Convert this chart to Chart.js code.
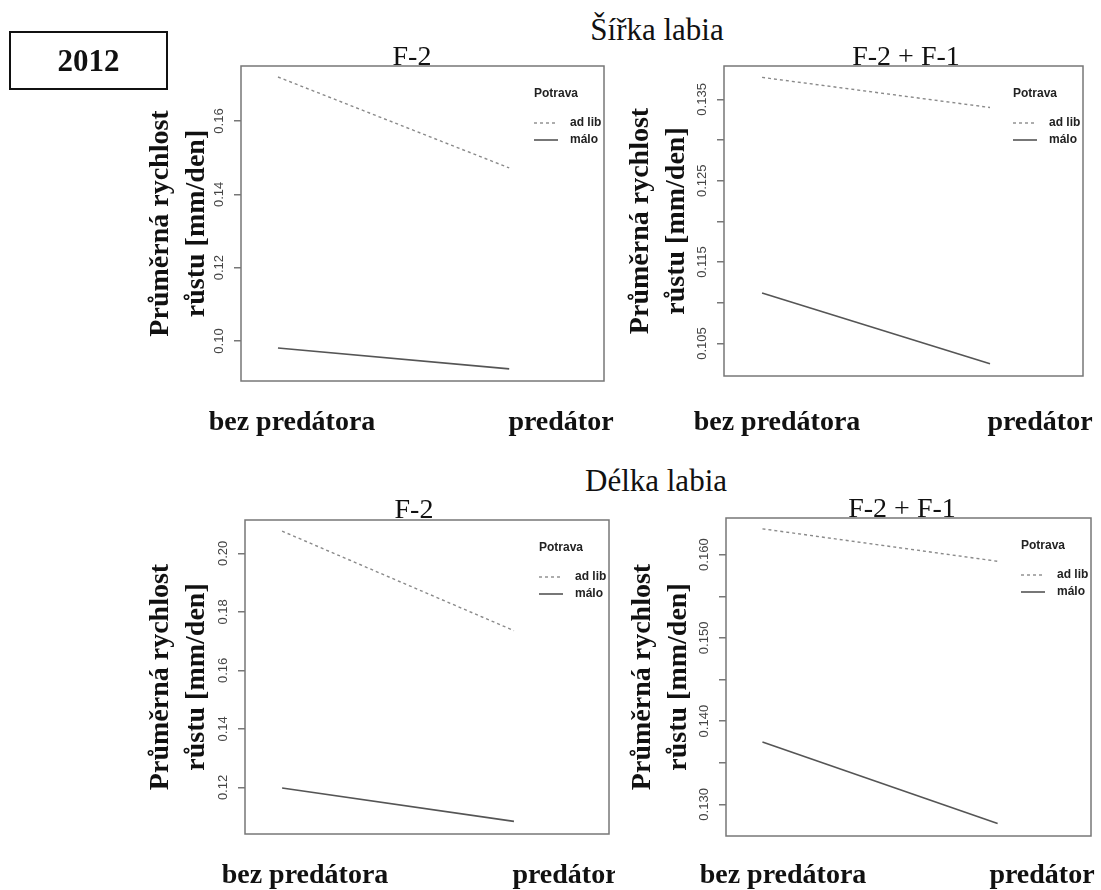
<!DOCTYPE html>
<html>
<head>
<meta charset="utf-8">
<script src="https://cdn.jsdelivr.net/npm/chart.js@4.4.1/dist/chart.umd.min.js"></script>
<style>
  body { margin: 0; background: #fff; }
  #page { position: relative; width: 1101px; height: 890px; overflow: hidden; font-family: "Liberation Serif", "Times New Roman", serif; color: #111; }
  canvas { position: absolute; }
  .head { position: absolute; white-space: nowrap; transform: translateX(-50%); line-height: 1; z-index: 2; }
  .big { font-size: 31px; }
  .sub { font-size: 28px; }
  #year { position: absolute; left: 9px; top: 31px; width: 155px; height: 55px; border: 2px solid #111; display: flex; align-items: center; justify-content: center; font-size: 31px; font-weight: bold; z-index: 2; }
</style>
</head>
<body>
<div id="page">
  <div id="year">2012</div>
  <div class="head big" style="left:657px; top:14px">Šířka labia</div>
  <div class="head big" style="left:656px; top:465px">Délka labia</div>
  <div class="head sub" style="left:412px; top:42px">F-2</div>
  <div class="head sub" style="left:906px; top:42px">F-2 + F-1</div>
  <div class="head sub" style="left:414px; top:495px">F-2</div>
  <div class="head sub" style="left:902px; top:494px">F-2 + F-1</div>
  <canvas id="c1" width="515" height="385" style="left:100px; top:60px"></canvas>
  <canvas id="c2" width="486" height="385" style="left:615px; top:60px"></canvas>
  <canvas id="c3" width="515" height="390" style="left:100px; top:500px"></canvas>
  <canvas id="c4" width="486" height="390" style="left:615px; top:500px"></canvas>
</div>
<script>
// groups on the x axis and the two food treatments
const groups = ["bez predátora", "predátor"];
const seriesNames = ["ad lib", "málo"];
const legendTitle = "Potrava";
const yTitle = ["Průměrná rychlost", "růstu [mm/den]"];

// Šířka labia
const sirkaF2AdLib = [0.172, 0.1472];
const sirkaF2Malo = [0.0981, 0.0924];
const sirkaF21AdLib = [0.1377, 0.134];
const sirkaF21Malo = [0.1112, 0.1025];
// Délka labia
const delkaF2AdLib = [0.2076, 0.1736];
const delkaF2Malo = [0.1198, 0.1084];
const delkaF21AdLib = [0.1631, 0.1592];
const delkaF21Malo = [0.1375, 0.1277];

// y ticks (R leaves some ticks unlabelled)
const sirkaF2Ticks = [0.10, 0.12, 0.14, 0.16];
const sirkaF2TickLabels = ["0.10", "0.12", "0.14", "0.16"];
const sirkaF21Ticks = [0.105, 0.110, 0.115, 0.120, 0.125, 0.130, 0.135];
const sirkaF21TickLabels = ["0.105", "", "0.115", "", "0.125", "", "0.135"];
const delkaF2Ticks = [0.12, 0.14, 0.16, 0.18, 0.20];
const delkaF2TickLabels = ["0.12", "0.14", "0.16", "0.18", "0.20"];
const delkaF21Ticks = [0.130, 0.135, 0.140, 0.145, 0.150, 0.155, 0.160];
const delkaF21TickLabels = ["0.130", "", "0.140", "", "0.150", "", "0.160"];

const panels = [
  { id: "c1", adLib: sirkaF2AdLib, malo: sirkaF2Malo, ticks: sirkaF2Ticks, tickLabels: sirkaF2TickLabels,
    yMin: 0.0891, yMax: 0.175, xMin: 0.84, xMax: 2.41,
    canvas: { left: 100, top: 60, width: 515, height: 385 }, box: { l: 241, t: 66, r: 604, b: 381 },
    titleX: 161, groupX: [292, 561], groupY: 430 },
  { id: "c2", adLib: sirkaF21AdLib, malo: sirkaF21Malo, ticks: sirkaF21Ticks, tickLabels: sirkaF21TickLabels,
    yMin: 0.1010, yMax: 0.1391, xMin: 0.833, xMax: 2.408,
    canvas: { left: 615, top: 60, width: 486, height: 385 }, box: { l: 724, t: 66, r: 1083, b: 376 },
    titleX: 641, groupX: [777, 1040], groupY: 430 },
  { id: "c3", adLib: delkaF2AdLib, malo: delkaF2Malo, ticks: delkaF2Ticks, tickLabels: delkaF2TickLabels,
    yMin: 0.1041, yMax: 0.2114, xMin: 0.84, xMax: 2.41,
    canvas: { left: 100, top: 500, width: 515, height: 390 }, box: { l: 245, t: 520, r: 609, b: 834 },
    titleX: 161, groupX: [305, 565], groupY: 883 },
  { id: "c4", adLib: delkaF21AdLib, malo: delkaF21Malo, ticks: delkaF21Ticks, tickLabels: delkaF21TickLabels,
    yMin: 0.1262, yMax: 0.1644, xMin: 0.845, xMax: 2.397,
    canvas: { left: 615, top: 500, width: 486, height: 390 }, box: { l: 726, t: 518, r: 1091, b: 836 },
    titleX: 643, groupX: [783, 1042], groupY: 883 }
];

// box, rotated y labels, legend inside the plot and the group names
const decor = {
  id: "decor",
  afterDraw(chart, args, opts) {
    const { ctx, chartArea: a } = chart;
    const y = chart.scales.y;
    ctx.save();
    ctx.strokeStyle = "#777";
    ctx.lineWidth = 1.5;
    ctx.strokeRect(a.left, a.top, a.right - a.left, a.bottom - a.top);

    ctx.fillStyle = "#444";
    ctx.font = '13px "Liberation Sans"';
    ctx.textAlign = "center";
    ctx.textBaseline = "middle";
    y.ticks.forEach(t => {
      if (!t.label) return;
      ctx.save();
      ctx.translate(a.left - 22, y.getPixelForValue(t.value));
      ctx.rotate(-Math.PI / 2);
      ctx.fillText(t.label, 0, 0);
      ctx.restore();
    });

    // legend
    ctx.fillStyle = "#222";
    ctx.font = 'bold 12px "Liberation Sans"';
    ctx.textAlign = "left";
    ctx.fillText(legendTitle, a.right - 70, a.top + 28);
    chart.data.datasets.forEach((ds, i) => {
      const ly = a.top + 57 + i * 17;
      ctx.strokeStyle = ds.borderColor;
      ctx.lineWidth = ds.borderWidth;
      ctx.setLineDash(ds.borderDash);
      ctx.beginPath();
      ctx.moveTo(a.right - 70, ly);
      ctx.lineTo(a.right - 46, ly);
      ctx.stroke();
      ctx.setLineDash([]);
      ctx.fillText(ds.label, a.right - 34, ly);
    });

    // x group names
    ctx.fillStyle = "#111";
    ctx.font = 'bold 28px "Liberation Serif"';
    ctx.textAlign = "center";
    ctx.textBaseline = "alphabetic";
    groups.forEach((g, i) => ctx.fillText(g, opts.groupX[i], opts.groupY));
    ctx.restore();
  }
};

function series(label, values, dotted) {
  return {
    label: label,
    data: values.map((v, i) => ({ x: i + 1, y: v })),
    borderColor: dotted ? "#8a8a8a" : "#555",
    borderWidth: dotted ? 1.4 : 1.6,
    borderDash: dotted ? [3, 3] : [],
    pointRadius: 0,
    tension: 0
  };
}

panels.forEach(p => {
  const c = p.canvas, b = p.box;
  new Chart(document.getElementById(p.id), {
    type: "line",
    data: {
      datasets: [series(seriesNames[0], p.adLib, true), series(seriesNames[1], p.malo, false)]
    },
    plugins: [decor],
    options: {
      responsive: false,
      animation: false,
      layout: {
        padding: { left: 0, top: b.t - c.top, right: c.left + c.width - b.r, bottom: c.top + c.height - b.b }
      },
      plugins: {
        legend: { display: false },
        tooltip: { enabled: false },
        decor: { groupX: p.groupX.map(x => x - c.left), groupY: p.groupY - c.top }
      },
      scales: {
        x: { type: "linear", min: p.xMin, max: p.xMax, display: false },
        y: {
          min: p.yMin,
          max: p.yMax,
          afterBuildTicks: s => { s.ticks = p.ticks.map(v => ({ value: v })); },
          afterFit: s => { s.width = b.l - c.left; },
          ticks: { display: false, callback: (v, i) => p.tickLabels[i] },
          grid: { drawOnChartArea: false, drawTicks: true, tickLength: 7, color: "#777", lineWidth: 1.5 },
          border: { display: false },
          title: {
            display: true,
            text: yTitle,
            color: "#111",
            font: { family: "Liberation Serif", size: 28, weight: "bold", lineHeight: 36 / 28 },
            padding: { top: p.titleX - c.left - 18, bottom: 0 }
          }
        }
      }
    }
  });
});
</script>
</body>
</html>
